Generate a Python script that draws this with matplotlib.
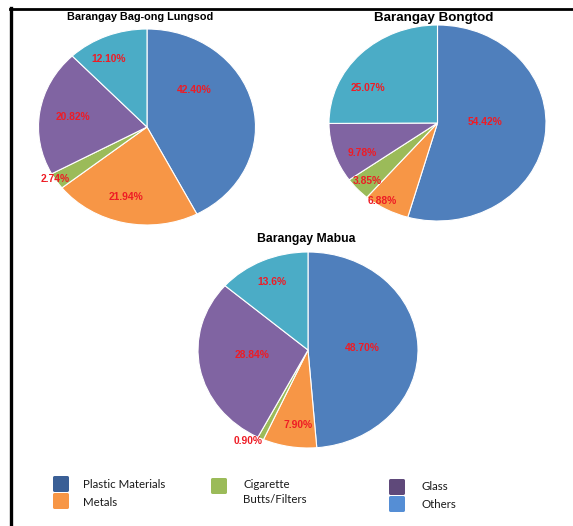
#!/usr/bin/env python
"""waste composition pies for three barangays"""

import matplotlib.pyplot as plt
from matplotlib.lines import Line2D
from matplotlib.patches import FancyBboxPatch

###########
## DATA  ##
###########
categories = ['Plastic Materials', 'Metals', 'Cigarette\nButts/Filters',
              'Glass', 'Others']

lungsod = [42.40, 21.94, 2.74, 20.82, 12.10]
bongtod = [54.42, 6.88, 3.85, 9.78, 25.07]
mabua = [48.70, 7.90, 0.90, 28.84, 13.6]

lungsod_txt = ['42.40%', '21.94%', '2.74%', '20.82%', '12.10%']
bongtod_txt = ['54.42%', '6.88%', '3.85%', '9.78%', '25.07%']
mabua_txt = ['48.70%', '7.90%', '0.90%', '28.84%', '13.6%']

###########
## STYLE ##
###########
W, H = 573, 526
pie_cols = ['#4f7fbc', '#f79646', '#9bbb59', '#8064a2', '#4bacc6']
leg_cols = ['#3a5f96', '#f79646', '#9bbb59', '#5f497a', '#558ed5']
red = '#ee1c25'

# label spots inside each pie (fraction of the x / y radius)
lungsod_pos = [(0.44, 0.38), (-0.19, -0.71), (-0.85, -0.53), (-0.68, 0.10),
               (-0.35, 0.69)]
bongtod_pos = [(0.44, 0.01), (-0.51, -0.80), (-0.65, -0.59), (-0.69, -0.31),
               (-0.64, 0.36)]
mabua_pos = [(0.49, 0.02), (-0.09, -0.77), (-0.54, -0.93), (-0.51, -0.05),
             (-0.33, 0.69)]


def px_axes(fig, left, top, width, height):
    """axes placed in pixel units measured from the top left corner"""
    return fig.add_axes([left / W, 1 - (top + height) / H, width / W, height / H])


def draw_pie(fig, box, vals, txt, pos):
    ax = px_axes(fig, *box)
    ax.pie(vals, colors=pie_cols, startangle=90, counterclock=False,
           wedgeprops=dict(edgecolor='white', linewidth=0.8))
    ax.set_aspect('auto')
    ax.set_xlim(-1, 1)
    ax.set_ylim(-1, 1)
    for (x, y), s in zip(pos, txt):
        ax.text(x, y, s, color=red, fontsize=7.4, fontweight='bold',
                family='Liberation Sans', ha='center', va='center')
    return ax


fig = plt.figure(figsize=(W / 100, H / 100), dpi=100)

draw_pie(fig, (38.5, 29, 217, 196), lungsod, lungsod_txt, lungsod_pos)
draw_pie(fig, (329, 25, 217, 196), bongtod, bongtod_txt, bongtod_pos)
draw_pie(fig, (198, 252, 220, 196), mabua, mabua_txt, mabua_pos)

# titles
fig.text(140 / W, 1 - 17 / H, 'Barangay Bag-ong Lungsod', fontsize=7.8,
         fontweight='bold', family='Liberation Sans', ha='center', va='center')
fig.text(434 / W, 1 - 18 / H, 'Barangay Bongtod', fontsize=9.6,
         fontweight='bold', family='Liberation Sans', ha='center', va='center')
fig.text(306 / W, 1 - 239 / H, 'Barangay Mabua', fontsize=8.8,
         fontweight='bold', family='Liberation Sans', ha='center', va='center')

# legend drawn as squares + labels
leg_sq = [(53, 476), (53, 493), (211, 478), (389, 479), (389, 496)]
leg_tx = [(83, 485), (83, 502), (243, 492), (422, 487), (422, 504)]
for ii in range(len(categories)):
    x, y = leg_sq[ii]
    fig.patches.append(FancyBboxPatch(
        (x / W, 1 - (y + 16) / H), 16 / W, 16 / H,
        boxstyle='round,pad=0,rounding_size=0.003',
        facecolor=leg_cols[ii], edgecolor='none', transform=fig.transFigure))
    tx, ty = leg_tx[ii]
    fig.text(tx / W, 1 - ty / H, categories[ii], fontsize=8.3, color='#1a1a1a',
             family='Lato', ha='left', va='center', linespacing=1.35)

# frame lines on the left and top
fig.add_artist(Line2D([10.5 / W, 10.5 / W], [0, 1 - 8 / H], color='black',
                      lw=2.4, transform=fig.transFigure))
fig.add_artist(Line2D([9.5 / W, 1], [1 - 9 / H, 1 - 9 / H], color='black',
                      lw=2.0, transform=fig.transFigure))

fig.savefig('out.png', dpi=100)
